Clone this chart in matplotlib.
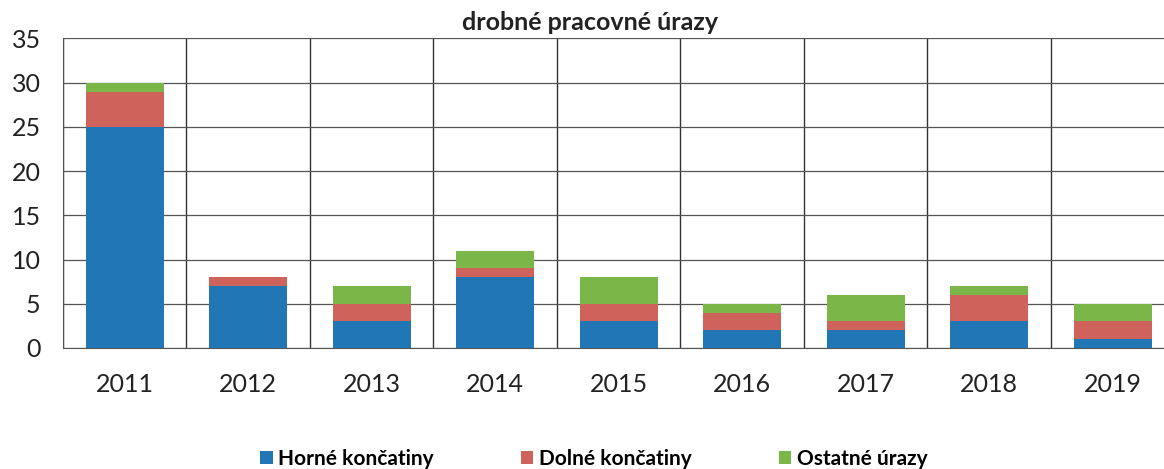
import numpy as np
import matplotlib.pyplot as plt

years = ["2011", "2012", "2013", "2014", "2015", "2016", "2017", "2018", "2019"]
horne = [25, 7, 3, 8, 3, 2, 2, 3, 1]
dolne = [4, 1, 2, 1, 2, 2, 1, 3, 2]
ostatne = [1, 0, 2, 2, 3, 1, 3, 1, 2]

plt.rcParams['font.family'] = ['Lato', 'DejaVu Sans']

fig = plt.figure(figsize=(11.64, 4.69), dpi=100)
ax = fig.add_axes([0.054, 0.258, 0.955, 0.66])

x = np.arange(len(years))
h = np.array(horne)
d = np.array(dolne)
o = np.array(ostatne)
w = 0.63
ax.bar(x, h, w, color='#2177b5', label='Horné končatiny', zorder=3)
ax.bar(x, d, w, bottom=h, color='#cf625b', label='Dolné končatiny', zorder=3)
ax.bar(x, o, w, bottom=h + d, color='#7ab648', label='Ostatné úrazy', zorder=3)

ax.set_xlim(-0.5, len(years) - 0.5)
ax.set_ylim(0, 35)
ax.set_yticks(range(0, 36, 5))
ax.set_xticks(x)
ax.set_xticklabels(years)
ax.set_xticks(np.arange(-0.5, len(years), 1), minor=True)
ax.grid(axis='y', color='#555555', lw=0.9, zorder=0)
ax.grid(axis='x', which='minor', color='#333333', lw=1.0, zorder=0)
ax.grid(axis='x', which='major', visible=False)
ax.tick_params(axis='both', which='both', length=0, labelsize=18, colors='#222222')
ax.tick_params(axis='x', pad=18)
ax.tick_params(axis='y', pad=16)
for s in ['top', 'right']:
    ax.spines[s].set_visible(False)
ax.spines['left'].set_color('#555555')
ax.spines['bottom'].set_color('#555555')

fig.text(0.507, 0.935, 'drobné pracovné úrazy', ha='center', fontsize=18, fontweight='bold', color='#222222')

fig.legend(loc='lower center', bbox_to_anchor=(0.51, -0.04), ncol=3, frameon=False,
           handlelength=0.6, handleheight=0.6, handletextpad=0.25, columnspacing=4.2,
           prop={'weight': 'bold', 'size': 15})

fig.savefig('out.png', dpi=100)
